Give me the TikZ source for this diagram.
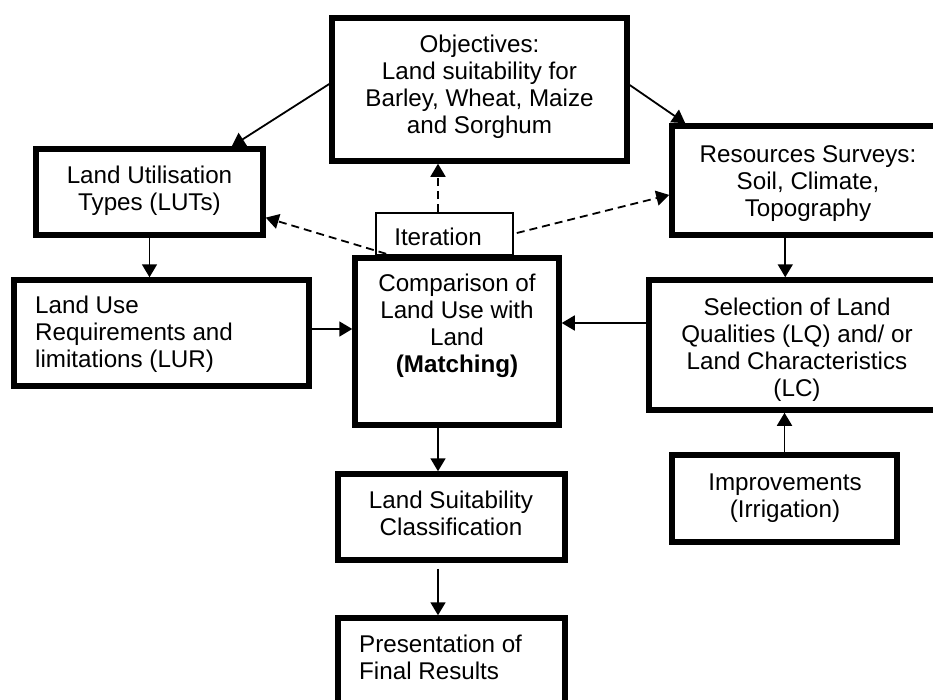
\documentclass[tikz,border=0pt]{standalone}
\usepackage{fontspec}
\setmainfont{Liberation Sans}
\usetikzlibrary{arrows.meta,calc}
\begin{document}
\begin{tikzpicture}[x=1pt,y=-1pt,
  box/.style={draw, rectangle, line width=5.5pt, inner sep=0pt},
  thinbox/.style={draw, rectangle, line width=1.6pt, inner sep=0pt},
  txt/.style={inner sep=0pt, font=\fontsize{24.2}{27}\selectfont},
  arr/.style={line width=1.8pt, -{Triangle[length=13pt,width=15pt]}},
  darr/.style={arr, dash pattern=on 8pt off 5pt}]
\useasboundingbox (0,0) rectangle (933,699);
\clip (0,0) rectangle (933,699);

% boxes
\node[box, minimum width=295pt, minimum height=143pt] (obj) at (479.5,89.5) {};
\node[box, minimum width=227pt, minimum height=86pt] (lut) at (149.5,192) {};
\node[box, minimum width=295pt, minimum height=106pt] (lur) at (161.5,333) {};
\node[thinbox, minimum width=137pt, minimum height=42pt] (iter) at (444.5,234) {};
\node[box, minimum width=204pt, minimum height=167pt] (match) at (457,341.5) {};
\node[box, minimum width=288pt, minimum height=109pt] (res) at (816,180.5) {};
\node[box, minimum width=311pt, minimum height=130pt] (sel) at (804.5,345) {};
\node[box, minimum width=225pt, minimum height=87pt] (imp) at (784.5,498.5) {};
\node[box, minimum width=227pt, minimum height=86pt] (suit) at (451.5,517) {};
\node[box, minimum width=227pt, minimum height=102pt] (pres) at (451.5,669) {};

% texts
\node[txt, anchor=base] (tobj) at (479.5,52) {\begin{tabular}[t]{@{}c@{}}Objectives:\\Land suitability for\\Barley, Wheat, Maize\\and Sorghum\end{tabular}};
\node[txt, anchor=base] (tlut) at (149.5,183) {\begin{tabular}[t]{@{}c@{}}Land Utilisation\\Types (LUTs)\end{tabular}};
\node[txt, anchor=base west] (tlur) at (35,313) {\begin{tabular}[t]{@{}l@{}}Land Use\\Requirements and\\limitations (LUR)\end{tabular}};
\node[txt, anchor=base] (titer) at (438,245) {Iteration};
\node[txt, anchor=base] (tmatch) at (457,291) {\begin{tabular}[t]{@{}c@{}}Comparison of\\Land Use with\\Land\\\textbf{(Matching)}\end{tabular}};
\node[txt, anchor=base] (tres) at (808,162) {\begin{tabular}[t]{@{}c@{}}Resources Surveys:\\Soil, Climate,\\Topography\end{tabular}};
\node[txt, anchor=base] (tsel) at (797,315) {\begin{tabular}[t]{@{}c@{}}Selection of Land\\Qualities (LQ) and/ or\\Land Characteristics\\(LC)\end{tabular}};
\node[txt, anchor=base] (timp) at (785,490) {\begin{tabular}[t]{@{}c@{}}Improvements\\(Irrigation)\end{tabular}};
\node[txt, anchor=base] (tsuit) at (451,508) {\begin{tabular}[t]{@{}c@{}}Land Suitability\\Classification\end{tabular}};
\node[txt, anchor=base west] (tpres) at (359,652) {\begin{tabular}[t]{@{}l@{}}Presentation of\\Final Results\end{tabular}};

% solid connectors
\draw[arr] ($(obj.north west)!0.463!(obj.south west)$) -- ($(lut.north west)!0.854!(lut.north east)$);
\draw[arr] ($(obj.north east)!0.47!(obj.south east)$) -- ([xshift=16pt]res.north west);
\draw[arr] (lut.south) -- (lut.south |- lur.north);
\draw[arr] ([yshift=4pt]lur.east) -- ([yshift=4pt]lur.east -| match.west);
\draw[arr] ([yshift=22pt]sel.west) -- ([yshift=22pt]sel.west -| match.east);
\draw[arr] ([xshift=116pt]res.south west) -- ([xshift=116pt]res.south west |- sel.north);
\draw[arr] (imp.north) -- (imp.north |- sel.south);
\draw[arr] ([xshift=-19pt]match.south) -- ([xshift=-19pt]match.south |- suit.north);
\draw[arr] ([xshift=-13.5pt,yshift=-6pt]suit.south) -- ([xshift=-13.5pt]suit.south |- pres.north);

% dashed connectors
\draw[darr] ([xshift=-6.5pt]iter.north) -- ([xshift=-6.5pt]iter.north |- obj.south);
\draw[darr] ([xshift=11pt,yshift=2pt]iter.south west) -- ($(lut.north east)!0.78!(lut.south east)$);
\draw[darr] ([xshift=3pt,yshift=1pt]iter.east) -- ($(res.north west)!0.626!(res.south west)$);
\end{tikzpicture}
\end{document}
